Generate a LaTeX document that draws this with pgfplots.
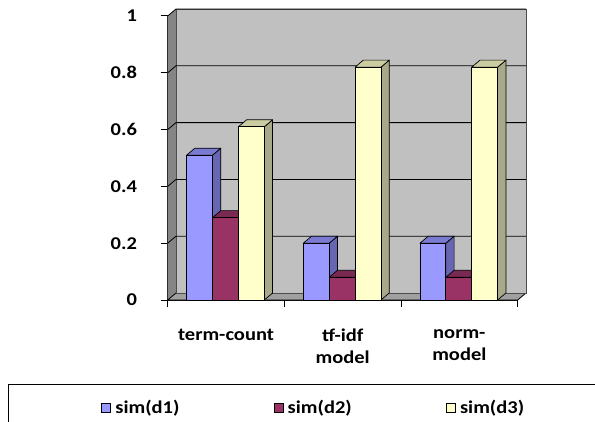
\documentclass[border=0pt]{standalone}
\usepackage{fontspec}
\setmainfont{Carlito}[FakeStretch=1.14]
\usepackage{pgfplots}
\pgfplotsset{compat=1.18}
\definecolor{cA}{HTML}{9999FF}
\definecolor{cAs}{HTML}{6666B3}
\definecolor{cAt}{HTML}{7A7AD0}
\definecolor{cB}{HTML}{993366}
\definecolor{cBs}{HTML}{6B2447}
\definecolor{cBt}{HTML}{7A2952}
\definecolor{cC}{HTML}{FFFFCC}
\definecolor{cCs}{HTML}{A8A88A}
\definecolor{cCt}{HTML}{CCCCA3}
\definecolor{wallback}{HTML}{C0C0C0}
\definecolor{wallleft}{HTML}{858585}
\definecolor{wallfloor}{HTML}{A0A0A0}

% side and top faces of a 3D bar: #1 left x of front face, #2 value, #3 side colour, #4 top colour
\newcommand{\tdbar}[4]{%
  \pgfmathsetmacro\tdxl{#1}%
  \pgfmathsetmacro\tdxr{#1+0.222}%
  \pgfmathsetmacro\tdxlb{#1+0.0711}%
  \pgfmathsetmacro\tdxrb{#1+0.222+0.0711}%
  \pgfmathsetmacro\tdvb{#2+0.02465}%
  \edef\tdtemp{%
    \noexpand\addplot[forget plot, fill=#3, draw=black, line width=0.7pt, line join=round] coordinates {(\tdxr,0) (\tdxrb,0.02465) (\tdxrb,\tdvb) (\tdxr,#2)} -- cycle;
    \noexpand\addplot[forget plot, fill=#4, draw=black, line width=0.7pt, line join=round] coordinates {(\tdxl,#2) (\tdxlb,\tdvb) (\tdxrb,\tdvb) (\tdxr,#2)} -- cycle;
  }%
  \tdtemp
}

\pgfplotsset{lg/.style={legend image code/.code={\draw[##1, line width=1.2pt, draw=black] (0pt,-4.5pt) rectangle (9pt,4.5pt);}}}

\begin{document}
\begin{tikzpicture}
\useasboundingbox (0,0) rectangle (595pt,421pt);
\begin{axis}[
  at={(167.7pt,121pt)}, anchor=south west,
  scale only axis, width=350pt, height=284pt,
  xmin=-0.5, xmax=2.5, ymin=0, ymax=1,
  clip=false,
  axis lines=left, x axis line style={-}, y axis line style={-},
  axis line style={line width=1pt, black},
  ytick={0,0.2,0.4,0.6,0.8,1},
  tick align=outside, major tick length=7pt,
  tick style={black, line width=1pt},
  xtick={-0.5,0.5,1.5,2.5}, xticklabels={},
  extra x ticks={0,1,2},
  extra x tick labels={term-count,{tf-idf\\model},{norm-\\model}},
  extra x tick style={major tick length=0pt},
  /pgf/number format/assume math mode=true,
  ticklabel style={font=\bfseries\fontsize{18}{22}\selectfont},
  yticklabel style={inner sep=0pt, xshift=-23.5pt},
  xticklabel style={align=center, inner sep=0pt, yshift=-29pt},
  legend columns=3,
  legend style={at={(-0.1906,-0.3803)}, anchor=west, draw=none, fill=none, inner sep=0pt,
    nodes={inner sep=0pt}, font=\bfseries\fontsize{18}{22}\selectfont,
    /tikz/every odd column/.append style={column sep=4pt},
    /tikz/every even column/.append style={column sep=94pt}},
]
% walls
\fill[wallleft] (axis cs:-0.5,0) -- ([shift={(8.3pt,7pt)}]axis cs:-0.5,0) -- ([shift={(8.3pt,7pt)}]axis cs:-0.5,1) -- (axis cs:-0.5,1) -- cycle;
\fill[wallfloor, draw=black, line width=0.8pt] (axis cs:-0.5,0) -- (axis cs:2.5,0) -- ([shift={(8.3pt,7pt)}]axis cs:2.5,0) -- ([shift={(8.3pt,7pt)}]axis cs:-0.5,0) -- cycle;
\filldraw[fill=wallback, draw=black!70, line width=0.8pt] ([shift={(8.3pt,7pt)}]axis cs:-0.5,0) rectangle ([shift={(8.3pt,7pt)}]axis cs:2.5,1);
\pgfplotsinvokeforeach{0.2,0.4,0.6,0.8,1}{
  \draw[black, line width=0.8pt] (axis cs:-0.5,#1) -- ([shift={(8.3pt,7pt)}]axis cs:-0.5,#1) -- ([shift={(8.3pt,7pt)}]axis cs:2.5,#1);
}
% 3D faces
\tdbar{-0.338}{0.51}{cAs}{cAt}
\tdbar{-0.116}{0.29}{cBs}{cBt}
\tdbar{0.106}{0.61}{cCs}{cCt}
\tdbar{0.662}{0.20}{cAs}{cAt}
\tdbar{0.884}{0.08}{cBs}{cBt}
\tdbar{1.106}{0.82}{cCs}{cCt}
\tdbar{1.662}{0.20}{cAs}{cAt}
\tdbar{1.884}{0.08}{cBs}{cBt}
\tdbar{2.106}{0.82}{cCs}{cCt}
% front faces
\addplot[ybar, bar width=0.222, bar shift=0pt, fill=cA, draw=black, line width=0.7pt, lg] coordinates {(-0.227,0.51) (0.773,0.20) (1.773,0.20)};
\addplot[ybar, bar width=0.222, bar shift=0pt, fill=cB, draw=black, line width=0.7pt, lg] coordinates {(-0.005,0.29) (0.995,0.08) (1.995,0.08)};
\addplot[ybar, bar width=0.222, bar shift=0pt, fill=cC, draw=black, line width=0.7pt, lg] coordinates {(0.217,0.61) (1.217,0.82) (2.217,0.82)};
\legend{sim(d1),sim(d2),sim(d3)}
\end{axis}
\draw[black, line width=1.3pt] (8.3pt,-5pt) -- (8.3pt,36.6pt) -- (600pt,36.6pt);
\end{tikzpicture}
\end{document}
